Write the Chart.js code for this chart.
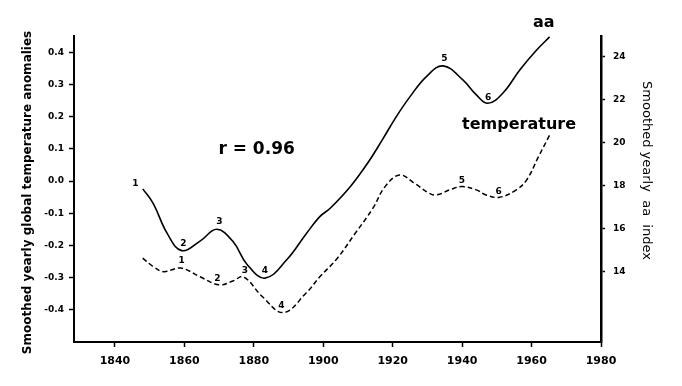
<!DOCTYPE html>
<html><head><meta charset="utf-8">
<script src="https://cdn.jsdelivr.net/npm/chart.js@4/dist/chart.umd.min.js"></script>
<style>html,body{margin:0;padding:0;background:#fff;} canvas{display:block;}</style>
</head><body>
<canvas id="c" width="682" height="386"></canvas>
<script>
// ---- data ----
const aaYears = [1848, 1851, 1855, 1859.2, 1864.5, 1869.3, 1874, 1878, 1883.2, 1889.4, 1895.2, 1899, 1902, 1908, 1913, 1917, 1921, 1925, 1929.7, 1934.5, 1940.2, 1944.1, 1947.4, 1951.7, 1956.6, 1961.4, 1965.2];
const aaValues = [17.85, 17.18, 15.79, 14.98, 15.42, 15.97, 15.40, 14.35, 13.70, 14.54, 15.79, 16.56, 16.95, 18.0, 19.1, 20.13, 21.2, 22.14, 23.07, 23.57, 22.92, 22.22, 21.83, 22.30, 23.38, 24.30, 24.92];
const tempYears = [1848, 1851, 1854, 1859, 1864.5, 1870, 1874, 1877, 1882.5, 1888.5, 1895, 1899, 1904, 1909, 1914.3, 1917.8, 1922, 1926.3, 1930.6, 1932.6, 1936.9, 1940, 1944.1, 1946.9, 1950.8, 1955.6, 1958.6, 1962, 1965.2];
const tempValues = [-0.239, -0.265, -0.281, -0.270, -0.297, -0.322, -0.310, -0.297, -0.359, -0.408, -0.348, -0.297, -0.240, -0.165, -0.084, -0.017, 0.019, -0.007, -0.038, -0.043, -0.025, -0.017, -0.027, -0.043, -0.050, -0.027, 0.004, 0.076, 0.143];
const xTicks = [1840, 1860, 1880, 1900, 1920, 1940, 1960, 1980];
const tempTicks = [-0.4, -0.3, -0.2, -0.1, 0.0, 0.1, 0.2, 0.3, 0.4];
const aaTicks = [14, 16, 18, 20, 22, 24];
const markNums = ['1', '2', '3', '4', '5', '6'];
const aaMarkYears = [1845.9, 1859.7, 1870.1, 1883.2, 1934.9, 1947.5];
const aaMarkValues = [18.08, 15.29, 16.33, 14.03, 23.89, 22.11];
const tempMarkYears = [1859.2, 1869.5, 1877.4, 1887.9, 1939.9, 1950.5];
const tempMarkValues = [-0.247, -0.302, -0.279, -0.388, 0.002, -0.033];
const leftTitle = 'Smoothed yearly global temperature anomalies';
const rightTitle = 'Smoothed yearly  aa  index';
const corrText = 'r = 0.96';

const FONT = '"DejaVu Sans", sans-serif';

const annotate = {
  id: 'annotate',
  afterDatasetsDraw(chart) {
    const ctx = chart.ctx;
    const x = chart.scales.x, yL = chart.scales.yL, yR = chart.scales.yR;
    ctx.save();
    ctx.fillStyle = '#000';
    ctx.textAlign = 'center';
    ctx.textBaseline = 'middle';
    ctx.font = 'bold 9px ' + FONT;
    markNums.forEach((n, i) => {
      ctx.fillText(n, x.getPixelForValue(aaMarkYears[i]), yR.getPixelForValue(aaMarkValues[i]));
      ctx.fillText(n, x.getPixelForValue(tempMarkYears[i]), yL.getPixelForValue(tempMarkValues[i]));
    });
    ctx.font = 'bold 16px ' + FONT;
    ctx.fillText('aa', x.getPixelForValue(1963.5), yR.getPixelForValue(25.57));
    ctx.fillText('temperature', x.getPixelForValue(1956.4), yL.getPixelForValue(0.1745));
    ctx.font = 'bold 17px ' + FONT;
    ctx.fillText(corrText, x.getPixelForValue(1880.8), yL.getPixelForValue(0.098));
    // axis titles
    ctx.font = 'bold 12px ' + FONT;
    ctx.save();
    ctx.translate(27.5, 192.5);
    ctx.rotate(-Math.PI / 2);
    ctx.fillText(leftTitle, 0, 0);
    ctx.restore();
    ctx.font = '13px ' + FONT;
    ctx.save();
    ctx.translate(646, 170.5);
    ctx.rotate(Math.PI / 2);
    ctx.fillText(rightTitle, 0, 0);
    ctx.restore();
    ctx.restore();
  }
};

new Chart(document.getElementById('c'), {
  type: 'line',
  data: {
    datasets: [
      {
        label: 'aa',
        data: aaYears.map((v, i) => ({ x: v, y: aaValues[i] })),
        yAxisID: 'yR',
        borderColor: '#000',
        borderWidth: 1.6,
        pointRadius: 0,
        fill: false,
        tension: 0.4
      },
      {
        label: 'temperature',
        data: tempYears.map((v, i) => ({ x: v, y: tempValues[i] })),
        yAxisID: 'yL',
        borderColor: '#000',
        borderWidth: 1.5,
        borderDash: [5, 3],
        pointRadius: 0,
        fill: false,
        tension: 0.4
      }
    ]
  },
  options: {
    responsive: false,
    devicePixelRatio: 1,
    animation: false,
    layout: { padding: { top: 36, left: 0, right: 0, bottom: 0 } },
    plugins: { legend: { display: false }, tooltip: { enabled: false } },
    scales: {
      x: {
        type: 'linear',
        min: 1828.2,
        max: 1980,
        afterBuildTicks: s => { s.ticks = xTicks.map(v => ({ value: v })); },
        afterFit: s => { s.height = 44; },
        border: { display: true, color: '#000', width: 2 },
        grid: { display: true, drawOnChartArea: false, drawTicks: true, tickLength: 5, tickColor: '#000', tickWidth: 1.5 },
        ticks: { color: '#000', font: { family: FONT, size: 11, weight: 'bold' }, padding: 8, maxRotation: 0, autoSkip: false, callback: v => String(v) }
      },
      yL: {
        type: 'linear',
        position: 'left',
        min: -0.4994,
        max: 0.4506,
        afterBuildTicks: s => { s.ticks = tempTicks.map(v => ({ value: v })); },
        afterFit: s => { s.width = 74; },
        border: { display: true, color: '#000', width: 2 },
        grid: { display: true, drawOnChartArea: false, drawTicks: true, tickLength: 5, tickColor: '#000', tickWidth: 1.5 },
        ticks: { color: '#000', font: { family: FONT, size: 9, weight: 'bold' }, padding: 5, autoSkip: false, callback: v => v.toFixed(1) }
      },
      yR: {
        type: 'linear',
        position: 'right',
        min: 10.73,
        max: 24.96,
        afterBuildTicks: s => { s.ticks = aaTicks.map(v => ({ value: v })); },
        afterFit: s => { s.width = 81; },
        border: { display: true, color: '#000', width: 2.5 },
        grid: { display: true, drawOnChartArea: false, drawTicks: true, tickLength: 4, tickColor: '#000', tickWidth: 1.5 },
        ticks: { color: '#000', font: { family: FONT, size: 9, weight: 'bold' }, padding: 8, autoSkip: false, callback: v => String(v) }
      }
    }
  },
  plugins: [annotate]
});
</script>
</body></html>
